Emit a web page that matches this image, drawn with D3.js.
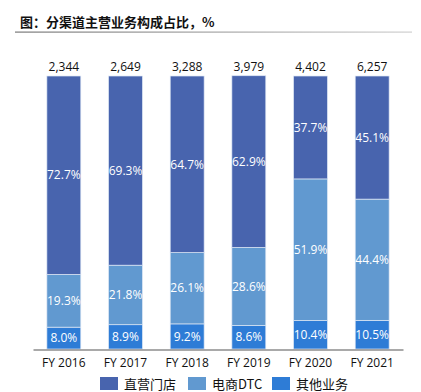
<!DOCTYPE html>
<html>
<head>
<meta charset="utf-8">
<script src="https://cdn.jsdelivr.net/npm/d3@7"></script>
<style>
  body { margin: 0; background: #fff; }
  svg { display: block; }
</style>
</head>
<body>
<div id="chart"></div>
<script>
const years = ['FY 2016', 'FY 2017', 'FY 2018', 'FY 2019', 'FY 2020', 'FY 2021'];
const totals = [2344, 2649, 3288, 3979, 4402, 6257];
const other = [8.0, 8.9, 9.2, 8.6, 10.4, 10.5];
const ecom = [19.3, 21.8, 26.1, 28.6, 51.9, 44.4];
const stores = [72.7, 69.3, 64.7, 62.9, 37.7, 45.1];
const seriesNames = ['直营门店', '电商DTC', '其他业务'];
const colors = { '直营门店': '#4864ae', '电商DTC': '#6199d0', '其他业务': '#2e7cd6' };

const W = 421, H = 392;
const svg = d3.select('#chart').append('svg').attr('width', W).attr('height', H);
const font = '"Open Sans", "Noto Sans CJK SC", sans-serif';

// Title
svg.append('text')
  .attr('x', 20).attr('y', 27)
  .attr('font-family', '"Noto Sans CJK SC", sans-serif')
  .attr('font-weight', 'bold')
  .attr('font-size', '13px')
  .attr('fill', '#111')
  .text('图：分渠道主营业务构成占比，%');

const grad = svg.append('defs').append('linearGradient').attr('id', 'ul');
grad.append('stop').attr('offset', '0%').attr('stop-color', '#7a7a7a');
grad.append('stop').attr('offset', '100%').attr('stop-color', '#d0d0d0');
svg.append('rect').attr('x', 15).attr('y', 31.5).attr('width', 397).attr('height', 1.2).attr('fill', 'url(#ul)');

const x = d3.scaleBand().domain(years).range([33, 403]).paddingInner(0.45).paddingOuter(0.225);
const y = d3.scaleLinear().domain([0, 100]).range([349, 76]);

const rows = years.map((yr, i) => ({ year: yr, '其他业务': other[i], '电商DTC': ecom[i], '直营门店': stores[i] }));
const stack = d3.stack().keys(['其他业务', '电商DTC', '直营门店']);
const layers = stack(rows);

const g = svg.append('g');
layers.forEach(layer => {
  const lg = g.append('g');
  lg.selectAll('rect').data(layer).join('rect')
    .attr('x', d => x(d.data.year))
    .attr('y', d => y(d[1]))
    .attr('width', x.bandwidth())
    .attr('height', d => y(d[0]) - y(d[1]))
    .attr('fill', colors[layer.key])
    .attr('stroke', '#dfe8f5')
    .attr('stroke-width', 0.7);
  lg.selectAll('text').data(layer).join('text')
    .attr('x', d => x(d.data.year) + x.bandwidth() / 2)
    .attr('y', d => (y(d[0]) + y(d[1])) / 2)
    .attr('dy', '0.35em')
    .attr('text-anchor', 'middle')
    .attr('font-family', font)
    .attr('font-size', '12px')
    .attr('fill', '#fff')
    .text(d => d.data[layer.key].toFixed(1) + '%');
});

// Totals
svg.append('g').selectAll('text').data(years).join('text')
  .attr('x', d => x(d) + x.bandwidth() / 2)
  .attr('y', 67)
  .attr('dy', '0.35em')
  .attr('text-anchor', 'middle')
  .attr('font-family', font)
  .attr('font-size', '12px')
  .attr('fill', '#111')
  .text((d, i) => d3.format(',')(totals[i]));

// Axis
const axis = svg.append('g').attr('transform', 'translate(0,349.5)')
  .call(d3.axisBottom(x).tickSize(0).tickPadding(8.5));
axis.select('.domain').attr('stroke', '#555').attr('stroke-width', 1.2);
axis.selectAll('text').attr('font-family', font).attr('font-size', '12px').attr('fill', '#111');

// Legend
const legendX = [100, 188, 272];
const lg = svg.append('g');
seriesNames.forEach((name, i) => {
  lg.append('rect').attr('x', legendX[i]).attr('y', 377).attr('width', 18).attr('height', 13).attr('fill', colors[name]);
  lg.append('text').attr('x', legendX[i] + 24).attr('y', 384).attr('dy', '0.35em')
    .attr('font-family', '"Noto Sans CJK SC", "Open Sans", sans-serif')
    .attr('font-size', '13px').attr('fill', '#111')
    .text(name);
});
</script>
</body>
</html>
